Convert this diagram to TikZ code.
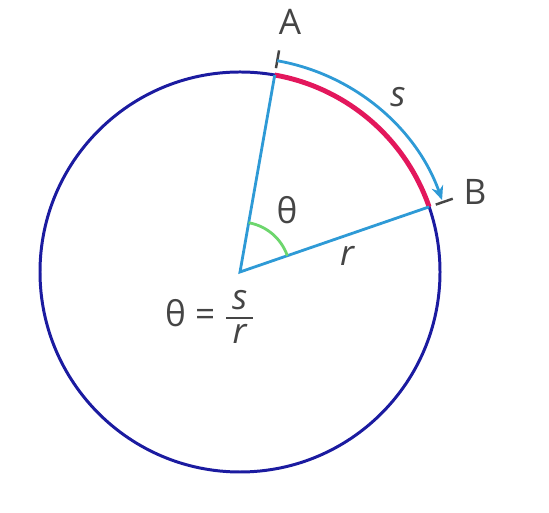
\documentclass[tikz,border=0pt]{standalone}
\usepackage{fontspec}
\setmainfont{Open Sans}
\usepackage{amsmath}
\usetikzlibrary{arrows.meta}
\definecolor{circblue}{HTML}{1B1BA0}
\definecolor{rayblue}{HTML}{2E9AD6}
\definecolor{arcred}{HTML}{E3175C}
\definecolor{anglegreen}{HTML}{6DD66D}
\definecolor{labelgray}{HTML}{454545}

\begin{document}
\begin{tikzpicture}[every node/.style={
    text=labelgray,
    font=\fontsize{20}{23}\selectfont,
    inner sep=0pt
}]
    \useasboundingbox (0,0) rectangle (10.98,10.26);
    \coordinate (O) at (4.8,4.82);
    \path (O) ++(80:4) coordinate (A);
    \path (O) ++(19:4) coordinate (B);
    % circle and arc
    \draw[circblue, line width=1.7pt] (O) circle (4);
    \draw[arcred, line width=2.8pt] (A) arc (80:19:4);
    \draw[rayblue, line width=1.6pt] (A) -- (O) -- (B);
    \draw[anglegreen, line width=1.6pt] (O) ++(80:1) arc (80:19:1);
    % ticks and arrow
    \path (O) ++(80:4.14) coordinate (tick_a_in);
    \path (O) ++(80:4.5) coordinate (tick_a_out);
    \path (O) ++(19:4.14) coordinate (tick_b_in);
    \path (O) ++(19:4.5) coordinate (tick_b_out);
    \draw[labelgray, line width=1.4pt] (tick_a_in) -- (tick_a_out);
    \draw[labelgray, line width=1.4pt] (tick_b_in) -- (tick_b_out);
    \draw[rayblue, line width=1.6pt, -{Stealth[length=2.8mm,width=2.4mm]}]
        (O) ++(80:4.29) arc (80:19.6:4.29);
    % labels
    \node (label_a) at (5.8,9.82) {A};
    \node (label_b) at (9.5,6.42) {B};
    \node (label_s) at (7.96,8.32) {\itshape s};
    \node (label_theta) at (5.74,6.06) {θ};
    \node (label_r) at (6.94,5.14) {\itshape r};
    \node (formula) at (4.2,3.92)
    {
        θ = $\genfrac{}{}{1.3pt}{1}
            {\makebox[0.75em]{\raisebox{0.08em}{\itshape s}}}
            {\makebox[0.75em]{\raisebox{-0.12em}{\itshape r}}}$
    };
\end{tikzpicture}
\end{document}
